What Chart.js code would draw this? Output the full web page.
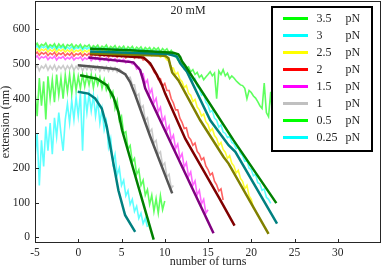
<!DOCTYPE html>
<html><head><meta charset="utf-8">
<script src="https://cdn.jsdelivr.net/npm/chart.js@4.4.1/dist/chart.umd.min.js"></script>
<style>html,body{margin:0;padding:0;background:#fff;overflow:hidden}</style>
</head><body>
<canvas id="c" width="382" height="267" style="display:block"></canvas>
<script>
// ---- labels / ticks ----
const forceLabels = ['3.5','3','2.5','2','1.5','1','0.5','0.25'];
const xTicks = [-5,0,5,10,15,20,25,30];
const yTicks = [0,100,200,300,400,500,600];
const titleText = '20 mM';

// ---- raw traces: number of turns (step 0.25) and extension (nm) ----
const turns = [-5,-4.75,-4.5,-4.25,-4,-3.75,-3.5,-3.25,-3,-2.75,-2.5,-2.25,-2,-1.75,-1.5,-1.25,-1,-0.75,-0.5,-0.25,0,0.25,0.5,0.75,1,1.25,1.5,1.75,2,2.25,2.5,2.75,3,3.25,3.5,3.75,4,4.25,4.5,4.75,5,5.25,5.5,5.75,6,6.25,6.5,6.75,7,7.25,7.5,7.75,8,8.25,8.5,8.75,9,9.25,9.5,9.75,10,10.25,10.5,10.75,11,11.25,11.5,11.75,12,12.25,12.5,12.75,13,13.25,13.5,13.75,14,14.25,14.5,14.75,15,15.25,15.5,15.75,16,16.25,16.5,16.75,17,17.25,17.5,17.75,18,18.25,18.5,18.75,19,19.25,19.5,19.75,20,20.25,20.5,20.75,21,21.25,21.5,21.75,22,22.25,22.5,22.75,23];

const raw35 = [552,560,549,557, 553,561,548,556, 551,559,547,558, 550,557,546,556, 552,558,547,555, 549,557,546,554, 550,556,545,553, 548,555,544,552, 547,555,543,551, 546,553,542,551, 545,552,541,550, 544,551,540,549, 543,550,539,548, 542,548,538,547, 541,547,536,545, 538,544,533,540,
  530,525,512,506, 500,496,488,492, 478,484,470,476, 462,468,455,463, 470,478,466,474, 400,480,470,484, 466,474,458,466, 460,452,446,440, 438,430,400,424, 418,408,402,392, 380,372,445,360, 348,420,340,460, 335];
const raw3 = [546,553,544,551, 547,552,543,550, 545,552,542,550, 546,551,543,549, 544,551,542,548, 545,550,541,548, 543,549,540,547, 542,548,539,546, 541,547,538,545, 540,546,537,544, 539,545,536,543, 538,544,535,542, 537,543,534,541, 536,541,532,539, 534,539,530,536, 531,535,526,528,
  528,520,517,503, 500,486,490,472, 470,452,458,436, 428,410,414,390, 382,362,366,344, 338,318,325,304, 300,288,292,274, 270,256,260,242, 236,220,222,200, 196,178,182,158, 155,136,140,116, 110,98,null,null, null];
const raw25 = [538,545,536,543, 539,544,535,542, 537,544,534,542, 538,543,535,541, 536,543,534,540, 537,542,533,540, 535,541,532,539, 534,540,531,538, 533,539,530,537, 532,538,529,536, 531,537,528,535, 530,536,527,534, 529,535,526,533, 528,533,524,530, 525,530,520,524, 520,512,508,490,
  488,470,476,456, 450,432,438,416, 410,392,398,376, 368,350,356,334, 326,306,314,294, 286,266,274,254, 246,228,236,214, 206,186,194,170, 162,140,150,120, 110,85,null,null, null,null,null,null, null,null,null,null, null];
const raw2 = [528,535,526,533, 529,534,525,532, 527,534,524,532, 528,533,524,531, 526,533,523,530, 527,532,523,530, 525,531,522,529, 524,530,521,528, 523,529,520,527, 522,528,519,526, 521,527,518,525, 520,526,517,523, 518,522,512,514,
  508,498,494,478, 470,456,458,436, 444,424,424,400, 388,368,368,344, 332,314,316,290, 282,266,272,248, 240,224,230,206, 196,180,186,162, 152,134,140,108];
const raw15 = [517,524,514,521, 518,523,513,520, 516,523,512,520, 517,522,513,519, 515,522,512,518, 516,521,511,518, 514,520,510,517, 513,519,509,516, 512,518,508,515, 511,516,506,513, 509,514,504,510, 508,500,502,486, 490,470,472,444,
  454,415,428,388, 401,362,375,335, 348,309,322,282, 295,256,269,229, 242,203,216,176, 189,150,163,123, 136,97,110,70, 80];
const raw1 = [486,497,481,494, 488,498,483,495, 485,497,482,494, 487,496,483,495, 486,497,482,494, 485,496,481,494, 484,495,481,493, 483,494,480,492, 482,493,479,491, 481,490,477,486,
  480,472,472,460, 462,440,440,408, 414,373,380,338, 345,304,312,272, 280,240,247,207, 215,175,182,142, 150];
const raw05 = [420,350,460,380, 450,340,465,400, 455,390,470,410, 460,400,468,420, 470,415,472,425, 465,430,470,435, 468,440,470,432, 465,440,462,430, 455,425,440,405, 420,372,395,338, 350,300,305,255, 265,218,228,182, 195,150,165,122, 138,95,122,75, 112,70,120,80, 105];
const raw025 = [230,300,150,280, 205,320,250,330, 240,345,290,360, 300,250,340,385, 330,395,340,405, 350,415,250,420, 360,415,365,410, 350,395,330,370, 310,335,260,285, 215,240,180,200, 150,165,120,135, 95,110,75,90, 55,70,40,55, 30];

// ---- fitted curves ----
const fit35Turns = [1.37,6.0,10.98,11.56,11.79,11.99,12.37,17.96,22.9];
const fit35Ext   = [544,540,533,528,520,508,495,280,99];
const fit3Turns  = [1.37,10.43,11.4,11.79,12.56,15.26,17.38,18.16,22.98];
const fit3Ext    = [536,529,522,502,478,338,266,247,40];
const fit25Turns = [1.37,10.05,10.43,10.63,10.86,11.59,14.1,16.8,17.38,22.0];
const fit25Ext   = [531,524,517,497,476,453,338,232,213,10];
const fit2Turns  = [1.37,7.54,8.31,9.09,9.67,10.05,12.37,16.22,18.07];
const fit2Ext    = [529,519,502,469,440,415,285,117,34];
const fit15Turns = [1.17,6.38,7.16,7.54,7.74,9.47,15.64];
const fit15Ext   = [519,505,483,450,430,338,12];
const fit1Turns  = [-0.06,2.72,4.46,5.42,6.0,6.6,8.31,10.86];
const fit1Ext    = [497,490,485,471,448,410,292,127];
const fit05Turns = [0.21,2.14,3.30,4.07,4.64,5.07,8.72];
const fit05Ext   = [468,458,439,405,362,309,-6];
const fit025Turns= [-0.06,1.17,1.95,2.72,3.30,4.07,4.64,5.42,6.58];
const fit025Ext  = [420,415,401,372,319,213,136,64,16];

// ---- styles ----
const rawColors = ['rgba(40,255,40,0.75)','rgba(40,255,255,0.75)','rgba(255,255,0,0.8)','rgba(255,30,30,0.7)','rgba(255,40,255,0.7)','rgba(190,190,190,0.8)','rgba(40,255,40,0.75)','rgba(40,255,255,0.75)'];
const legendColors = ['#00ff00','#00ffff','#ffff00','#ff0000','#ff00ff','#c0c0c0','#00ff00','#00ffff'];
const fitColors = ['#008000','#008080','#808000','#800000','#800080','#555555','#008000','#008080'];
const FONT = 'Liberation Serif, Times New Roman, serif';
const TXT = '#262626';

const raws = [raw35,raw3,raw25,raw2,raw15,raw1,raw05,raw025];
const fits = [[fit35Turns,fit35Ext],[fit3Turns,fit3Ext],[fit25Turns,fit25Ext],[fit2Turns,fit2Ext],[fit15Turns,fit15Ext],[fit1Turns,fit1Ext],[fit05Turns,fit05Ext],[fit025Turns,fit025Ext]];

function pts(xs, ys){ const out=[]; xs.forEach((x,i)=>{ if(ys[i]!==null && ys[i]!==undefined) out.push({x:x,y:ys[i]}); }); return out; }

const datasets = [];
raws.forEach((r,i)=>datasets.push({label:forceLabels[i]+' pN', data:pts(turns,r), showLine:true, borderColor:rawColors[i], borderWidth:1.6, pointRadius:0, tension:0, order:2+i}));
fits.forEach((f,i)=>datasets.push({label:forceLabels[i]+' pN fit', data:pts(f[0],f[1]), showLine:true, borderColor:fitColors[i], borderWidth:2.5, pointRadius:0, tension:0, order:0}));

const overlay = {
  id:'overlay',
  afterDatasetsDraw(chart){
    const {ctx, chartArea:a, scales:{x,y}} = chart;
    ctx.save();
    ctx.strokeStyle = TXT; ctx.lineWidth = 1;
    ctx.strokeRect(a.left+0.5, a.top+0.5, a.right-a.left-1, a.bottom-a.top-1);
    ctx.beginPath();
    x.ticks.forEach(t=>{ const px=Math.round(x.getPixelForValue(t.value))+0.5; ctx.moveTo(px,a.bottom); ctx.lineTo(px,a.bottom-4); });
    y.ticks.forEach(t=>{ const py=Math.round(y.getPixelForValue(t.value))+0.5; ctx.moveTo(a.left,py); ctx.lineTo(a.left+4,py); });
    ctx.stroke();
    ctx.fillStyle = TXT; ctx.font = '12px '+FONT; ctx.textAlign='center'; ctx.textBaseline='middle';
    ctx.fillText(titleText, x.getPixelForValue(12.7), y.getPixelForValue(653));
    const W=100, H=144, L=a.right-109, T=a.top+6;
    ctx.fillStyle='#fff'; ctx.fillRect(L,T,W,H);
    ctx.strokeStyle='#000'; ctx.lineWidth=2; ctx.strokeRect(L,T,W,H);
    forceLabels.forEach((lab,i)=>{
      const cy = T+11.5+i*17;
      ctx.strokeStyle=legendColors[i]; ctx.lineWidth=3;
      ctx.beginPath(); ctx.moveTo(L+11,cy); ctx.lineTo(L+36,cy); ctx.stroke();
      ctx.fillStyle=TXT; ctx.font='12px '+FONT; ctx.textAlign='left'; ctx.textBaseline='middle';
      ctx.fillText(lab, L+44.5, cy);
      ctx.fillText('pN', L+73.5, cy);
    });
    ctx.restore();
  }
};

new Chart(document.getElementById('c'), {
  type:'scatter',
  data:{datasets},
  options:{
    responsive:false, animation:false, devicePixelRatio:1,
    layout:{padding:{top:1,right:1,left:0,bottom:0}},
    plugins:{legend:{display:false}, tooltip:{enabled:false}},
    scales:{
      x:{type:'linear', min:-5, max:35,
         afterBuildTicks:s=>{ s.ticks = xTicks.map(v=>({value:v})); },
         afterFit:s=>{ s.height = 24; s.paddingLeft = 0; s.paddingRight = 0; s.paddingTop = 0; s.paddingBottom = 0; },
         grid:{display:false, drawTicks:false}, border:{display:false},
         ticks:{padding:3, color:TXT, autoSkip:false, maxRotation:0, font:{family:FONT, size:11.5}},
         title:{display:true, text:'number of turns', color:TXT, padding:0, font:{family:FONT, size:12, lineHeight:0.8}}},
      y:{type:'linear', min:-16, max:682,
         afterBuildTicks:s=>{ s.ticks = yTicks.map(v=>({value:v})); },
         afterFit:s=>{ s.width = 35; s.paddingLeft = 0; s.paddingRight = 0; s.paddingTop = 0; s.paddingBottom = 0; },
         grid:{display:false, drawTicks:false}, border:{display:false},
         ticks:{padding:5, color:TXT, autoSkip:false, font:{family:FONT, size:11.5}},
         title:{display:true, text:'extension (nm)', color:TXT, padding:0, font:{family:FONT, size:12, lineHeight:1}}}
    }
  },
  plugins:[overlay]
});
</script>
</body></html>
